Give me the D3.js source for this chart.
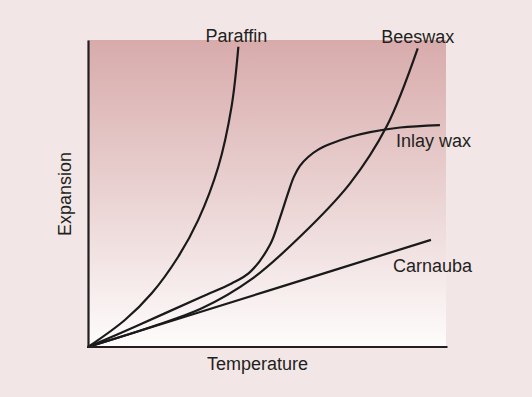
<!DOCTYPE html>
<html>
<head>
<meta charset="utf-8">
<script src="https://cdn.jsdelivr.net/npm/d3@7"></script>
<style>
  html, body { margin: 0; padding: 0; background: #f3e6e6; }
  text { font-family: "Liberation Sans", Arial, sans-serif; fill: #231f20; }
</style>
</head>
<body>
<div id="chart"></div>
<script>
// Curves (temperature 0-100, expansion 0-100)
const seriesNames = ['Paraffin', 'Beeswax', 'Inlay wax', 'Carnauba']

const paraffin = [
  [0, 0], [10.3, 8.8], [17.8, 17.5], [25.2, 29.4], [30.8, 41.4],
  [36.4, 58.7], [40.1, 78.3], [42.0, 97.8]
]
const beeswax = [
  [0, 0], [17.8, 6.6], [31.8, 12.6], [45.7, 22.1], [59.2, 35.9],
  [73.2, 53.3], [83.4, 71.8], [92.1, 97.3]
]
const inlayWax = [
  [0, 0], [13.1, 6.6], [31.8, 16.4], [40.1, 20.7], [45.25, 24.4],
  [50.8, 33.2], [53.6, 42.0], [55.9, 50.2], [57.5, 55.4], [59.2, 59.0],
  [61.5, 61.9], [64.2, 64.2], [67.6, 66.1], [73.2, 68.4], [78.8, 70.0],
  [87.2, 71.5], [98.3, 72.3]
]
const carnauba = [
  [0, 0], [50, 18.2], [95.8, 34.9]
]

const xLabel = 'Temperature'
const yLabel = 'Expansion'

const width = 532
const height = 397
const margin = {left: 88, right: 86, top: 40, bottom: 50}

const svg = d3.select('#chart')
  .append('svg')
  .attr('width', width)
  .attr('height', height)

const xScale = d3.scaleLinear().domain([0, 100]).range([margin.left, width - margin.right])
const yScale = d3.scaleLinear().domain([0, 100]).range([height - margin.bottom, margin.top])

// gradient plot background
const grad = svg.append('defs').append('linearGradient')
  .attr('id', 'bg')
  .attr('x1', 0).attr('y1', 0).attr('x2', 0).attr('y2', 1)
grad.append('stop').attr('offset', '0%').attr('stop-color', '#d8abab')
grad.append('stop').attr('offset', '55%').attr('stop-color', '#ecd6d6')
grad.append('stop').attr('offset', '100%').attr('stop-color', '#fefcfc')

svg.append('rect')
  .attr('x', xScale(0))
  .attr('y', yScale(100))
  .attr('width', xScale(100) - xScale(0))
  .attr('height', yScale(0) - yScale(100))
  .attr('fill', 'url(#bg)')

const line = d3.line()
  .curve(d3.curveCatmullRom.alpha(0.5))
  .x(d => xScale(d[0]))
  .y(d => yScale(d[1]))

const allSeries = [paraffin, beeswax, inlayWax, carnauba]

svg.selectAll('.curve')
  .data(allSeries)
  .enter()
  .append('path')
  .attr('class', 'curve')
  .attr('d', d => line(d))
  .attr('fill', 'none')
  .attr('stroke', '#1a1a1a')
  .attr('stroke-width', 2.2)

// axes without ticks
const xAxis = d3.axisBottom(xScale).tickValues([]).tickSizeOuter(0)
const yAxis = d3.axisLeft(yScale).tickValues([]).tickSizeOuter(0)

svg.append('g')
  .attr('transform', `translate(0,${yScale(0)})`)
  .call(xAxis)
  .select('.domain')
  .attr('stroke', '#231f20')
  .attr('stroke-width', 2.2)
  .attr('d', `M${xScale(0) - 1},0H${xScale(100) + 1.5}`)

svg.append('g')
  .attr('transform', `translate(${xScale(0)},0)`)
  .call(yAxis)
  .select('.domain')
  .attr('stroke', '#231f20')
  .attr('stroke-width', 2.2)

// labels at curve ends
const labelOpts = [
  {anchor: 'middle', dx: -2, dy: -5},
  {anchor: 'middle', dx: 0, dy: -5},
  {anchor: 'start', dx: -44, dy: 22},
  {anchor: 'start', dx: -38, dy: 32}
]

svg.selectAll('.seriesLabel')
  .data(seriesNames)
  .enter()
  .append('text')
  .attr('class', 'seriesLabel')
  .attr('x', (d, i) => xScale(allSeries[i][allSeries[i].length - 1][0]) + labelOpts[i].dx)
  .attr('y', (d, i) => yScale(allSeries[i][allSeries[i].length - 1][1]) + labelOpts[i].dy)
  .attr('text-anchor', (d, i) => labelOpts[i].anchor)
  .style('font-size', '18px')
  .text(d => d)

svg.append('text')
  .attr('x', 207)
  .attr('y', 370)
  .style('font-size', '18px')
  .text(xLabel)

svg.append('text')
  .attr('transform', 'translate(71,194) rotate(-90)')
  .attr('text-anchor', 'middle')
  .style('font-size', '18px')
  .text(yLabel)
</script>
</body>
</html>
